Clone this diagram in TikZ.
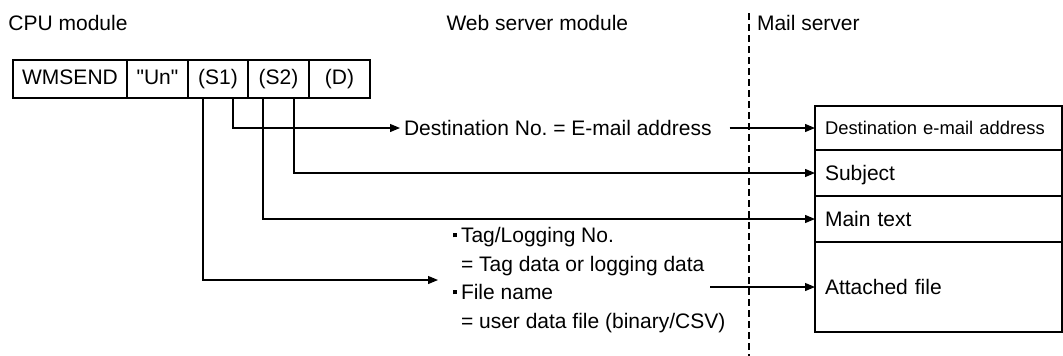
\documentclass[tikz,border=0pt]{standalone}
\usepackage{fontspec}
\setmainfont{Liberation Sans}[Ligatures=TeXOff]
\usetikzlibrary{arrows.meta}
\begin{document}
\begin{tikzpicture}[x=1pt,y=-1pt,
  every node/.style={font=\fontsize{21}{25}\selectfont, outer sep=0pt},
  lbl/.style={anchor=base west, inner sep=0pt},
  cell/.style={draw, line width=1.2pt, minimum height=38pt, inner sep=0pt, anchor=north west, text height=15pt, text depth=4pt},
  row/.style={draw, line width=1.2pt, minimum width=247pt, text width=227pt, inner xsep=10pt, inner ysep=0pt, align=left, anchor=north west, text height=15pt, text depth=0pt},
  conn/.style={line width=1.2pt},
  arr/.style={line width=1.2pt, -{Triangle[length=10pt,width=8pt]}},
  sep/.style={line width=1.6pt, dash pattern=on 7pt off 4pt}]
\useasboundingbox (0,0) rectangle (1063,356);

% headings
\node[lbl] (cpu) at (8.5,30.5) {CPU module};
\node[lbl] (web) at (446.5,30.5) {Web server module};
\node[lbl] (mail) at (757,30.5) {Mail server};

% separator
\coordinate (dtop) at (749,13);
\coordinate (dbot) at (749,356);
\draw[sep] (dtop) -- (dbot);

% instruction
\node[cell, minimum width=114pt] (c1) at (13,60) {WMSEND};
\node[cell, minimum width=61pt] (c2) at (c1.north east) {"Un"};
\node[cell, minimum width=60pt] (c3) at (c2.north east) {(S1)};
\node[cell, minimum width=61pt] (c4) at (c3.north east) {(S2)};
\node[cell, minimum width=61pt] (c5) at (c4.north east) {(D)};

% mail contents
\node[row, minimum height=44pt, font=\fontsize{18.4}{22}\selectfont, text height=13pt] (r1) at (815,106) {Destination e-mail address};
\node[row, minimum height=46pt] (r2) at (r1.south west) {Subject};
\node[row, minimum height=46pt] (r3) at (r2.south west) {Main text};
\node[row, minimum height=90pt] (r4) at (r3.south west) {Attached file};

% web server texts
\node[anchor=west, inner xsep=4pt, inner ysep=0pt, text height=15pt, text depth=0pt] (dest) at (400,128) {Destination No.\ = E-mail address};
\node[anchor=west, inner sep=0pt, font=\fontsize{21}{28.5}\selectfont] (list) at (438,280) {%
  \begin{tabular}{@{\hspace{15pt}}l@{\hspace{4pt}}l@{}}
  \rule[5.5pt]{4pt}{4pt} & Tag/Logging No.\\
   & = Tag data or logging data\\
  \rule[5.5pt]{4pt}{4pt} & File name\\
   & = user data file (binary/CSV)
  \end{tabular}};

% connectors
\draw[arr] ([xshift=15pt]c3.south) |- (dest.west);
\draw[arr] ([xshift=15.5pt]c4.south) |- (r2.west);
\draw[arr] ([xshift=-15.5pt]c4.south) |- (r3.west);
\draw[arr] ([xshift=-15pt]c3.south) |- (list.west);
\draw[arr] ([xshift=14pt]dest.east) -- (r1.west);
\coordinate (att) at (710,287);
\draw[arr] (att) -- (r4.west);
\end{tikzpicture}
\end{document}
